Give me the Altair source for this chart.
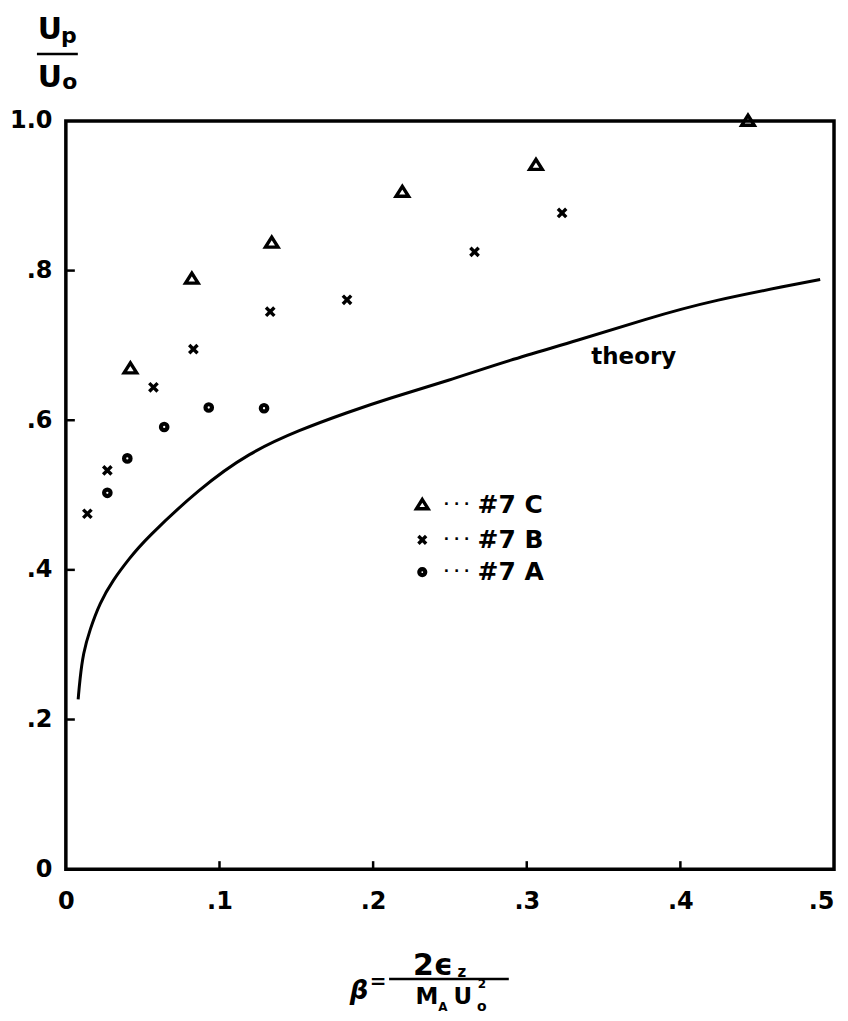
import altair as alt
import pandas as pd

# ---- data ----
c_x = [0.042, 0.082, 0.134, 0.219, 0.306, 0.444]
c_y = [0.669, 0.789, 0.837, 0.905, 0.941, 1.0]
b_x = [0.014, 0.027, 0.057, 0.083, 0.133, 0.183, 0.266, 0.323]
b_y = [0.475, 0.533, 0.644, 0.695, 0.745, 0.761, 0.825, 0.877]
a_x = [0.027, 0.040, 0.064, 0.093, 0.129]
a_y = [0.503, 0.549, 0.591, 0.617, 0.616]
theory_x = [0.0080, 0.0091, 0.0113, 0.0156, 0.0221, 0.0305, 0.0416, 0.0513,
            0.087, 0.1195, 0.152, 0.184, 0.21, 0.249, 0.288, 0.334, 0.377, 0.42, 0.491]
theory_y = [0.227, 0.253, 0.289, 0.320, 0.356, 0.386, 0.416, 0.44,
            0.509, 0.557, 0.587, 0.611, 0.629, 0.653, 0.680, 0.707, 0.735, 0.760, 0.788]
x_ticks = [0.0, 0.1, 0.2, 0.3, 0.4, 0.5]
y_ticks = [0.0, 0.2, 0.4, 0.6, 0.8, 1.0]
legend_names = ["#7 C", "#7 B", "#7 A"]
legend_y = [0.487, 0.440, 0.397]

FONT = "DejaVu Sans"
W, H = 770, 750
OX, OY = 66, 120  # view origin on the page

xs = alt.Scale(domain=[0, 0.5], nice=False, zero=False)
ys = alt.Scale(domain=[0, 1.0], nice=False, zero=False)

X = alt.X("x:Q", scale=xs)
Y = alt.Y("y:Q", scale=ys)

TRI = "M0,-1L1.1,0.75L-1.1,0.75Z"
CROSS = "M-1,-1L1,1M1,-1L-1,1"

base_axes = alt.Chart(pd.DataFrame({"x": [0.0], "y": [0.0]})).mark_point(opacity=0).encode(
    x=alt.X("x:Q", scale=xs, title=None,
            axis=alt.Axis(values=x_ticks, grid=False, domain=False, ticks=False,
                          labelFontSize=24, labelFont=FONT, labelFontWeight="bold",
                          labelColor="black", labelPadding=20, labelFlush=False,
                          labelAlign={"condition": {"test": "datum.value >= 0.5", "value": "right"},
                                      "value": "center"},
                          labelExpr="datum.value == 0 ? '0' : replace(format(datum.value, '.1f'), '0.', '.')")),
    y=alt.Y("y:Q", scale=ys, title=None,
            axis=alt.Axis(values=y_ticks, grid=False, domain=False, ticks=False,
                          labelFontSize=24, labelFont=FONT, labelFontWeight="bold",
                          labelColor="black", labelPadding=14, labelFlush=False,
                          labelExpr="datum.value == 1 ? '1.0' : datum.value == 0 ? '0' : replace(format(datum.value, '.1f'), '0.', '.')")),
)

# inward tick marks
xt = pd.DataFrame({"x": x_ticks[1:-1]})
xtick = alt.Chart(xt).mark_rule(color="black", strokeWidth=2.5).encode(
    x=alt.X("x:Q", scale=xs), y=alt.value(H), y2=alt.value(H - 8))
yt = pd.DataFrame({"y": y_ticks[1:-1]})
ytick = alt.Chart(yt).mark_rule(color="black", strokeWidth=2.5).encode(
    y=alt.Y("y:Q", scale=ys), x=alt.value(0), x2=alt.value(9))

theory = alt.Chart(pd.DataFrame({"x": theory_x, "y": theory_y})).mark_line(
    color="black", strokeWidth=3, interpolate="basis").encode(x=X, y=Y)

PT = dict(filled=False, color="black", opacity=1)
tri = alt.Chart(pd.DataFrame({"x": c_x, "y": c_y})).mark_point(
    shape=TRI, strokeWidth=3.4, size=130, **PT).encode(x=X, y=Y)
crs = alt.Chart(pd.DataFrame({"x": b_x, "y": b_y})).mark_point(
    shape=CROSS, strokeWidth=3.4, size=70, **PT).encode(x=X, y=Y)
cir = alt.Chart(pd.DataFrame({"x": a_x, "y": a_y})).mark_point(
    shape="circle", strokeWidth=4.2, size=42, **PT).encode(x=X, y=Y)

# legend
leg = pd.DataFrame({"y": legend_y, "name": legend_names})
leg_mark_x = 0.232
LX = alt.X("lx:Q", scale=xs)
leg_tri = alt.Chart(leg.iloc[[0]]).mark_point(shape=TRI, strokeWidth=3.4, size=110, **PT).encode(
    x=LX, y=Y).transform_calculate(lx=str(leg_mark_x))
leg_crs = alt.Chart(leg.iloc[[1]]).mark_point(shape=CROSS, strokeWidth=3.4, size=60, **PT).encode(
    x=LX, y=Y).transform_calculate(lx=str(leg_mark_x))
leg_cir = alt.Chart(leg.iloc[[2]]).mark_point(shape="circle", strokeWidth=4.2, size=36, **PT).encode(
    x=LX, y=Y).transform_calculate(lx=str(leg_mark_x))
leg_dots = alt.Chart(leg).mark_text(align="left", baseline="middle", font=FONT,
    fontSize=14, fontWeight="bold", color="black").encode(
    x=LX, y=Y, text=alt.value("·  ·  ·")).transform_calculate(lx="0.246")
leg_txt = alt.Chart(leg).mark_text(align="left", baseline="middle", font=FONT,
    fontSize=25, fontWeight="bold", color="black").encode(
    x=LX, y=Y, text="name:N").transform_calculate(lx="0.268")

theory_lbl = alt.Chart(pd.DataFrame({"x": [0.342], "y": [0.684], "t": ["theory"]})).mark_text(
    align="left", baseline="middle", font=FONT, fontSize=23, fontWeight="bold",
    color="black").encode(x=X, y=Y, text="t:N")


def label(text, px, py, size, align="center", weight="bold", style="normal"):
    return alt.Chart(pd.DataFrame({"t": [text]})).mark_text(
        align=align, baseline="middle", font=FONT, fontSize=size, fontWeight=weight,
        fontStyle=style, color="black").encode(
        x=alt.value(px - OX), y=alt.value(py - OY), text="t:N")


def hline(x1, x2, py, w=2.5):
    return alt.Chart(pd.DataFrame({"a": [0]})).mark_rule(color="black", strokeWidth=w).encode(
        x=alt.value(x1 - OX), x2=alt.value(x2 - OX), y=alt.value(py - OY))


titles = [
    # y title  U_p / U_o
    label("U", 50, 29, 30), label("p", 69, 35, 22),
    hline(37, 78, 53),
    label("U", 50, 77, 30), label("o", 70, 81, 22),
    # x title  beta = 2 eps_z / (M_A U_0^2)
    label("β", 360, 992, 26, style="italic"), label("=", 379, 983, 20),
    label("2ϵ", 434, 967, 30), label("z", 463, 973, 15),
    hline(390, 510, 980),
    label("M", 428, 998, 23), label("A", 444, 1008, 12),
    label("U", 464, 998, 23), label("2", 483, 985, 12), label("o", 483, 1008, 14),
]

chart = alt.layer(
    base_axes, xtick, ytick, theory, tri, crs, cir,
    leg_tri, leg_crs, leg_cir, leg_dots, leg_txt, theory_lbl, *titles
).properties(
    width=W, height=H,
    autosize=alt.AutoSizeParams(type="none"),
    padding={"left": OX - 8, "top": OY - 8, "right": 6, "bottom": 150},
).configure(
    background="white",
).configure_view(
    stroke="black", strokeWidth=3.5
)

chart.save("out.html", embed_options={"renderer": "svg", "actions": False})
